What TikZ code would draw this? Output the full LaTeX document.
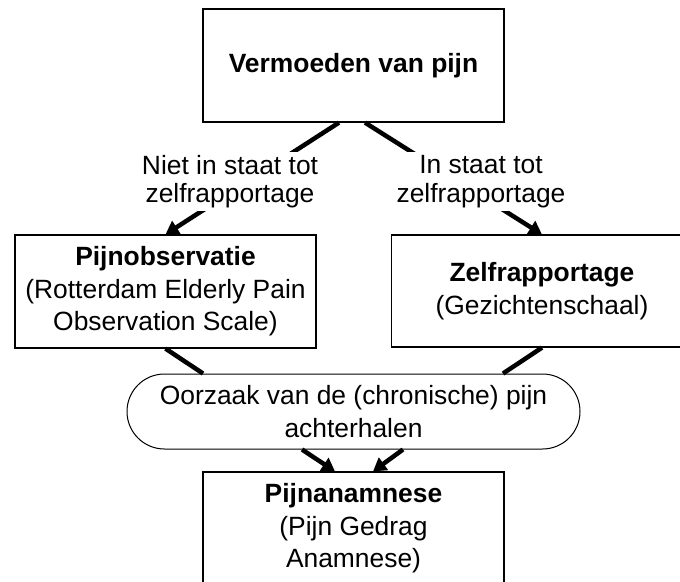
\documentclass[tikz,border=0pt]{standalone}
\usepackage{fontspec}
\setmainfont{Liberation Sans}
\usetikzlibrary{arrows.meta,calc}
\begin{document}
\begin{tikzpicture}[x=1pt,y=-1pt,
  box/.style={draw=black,line width=1.2pt,minimum width=301pt,minimum height=113pt,
    align=center,inner sep=6pt,font=\fontsize{26.4}{32.5}\selectfont},
  pill/.style={draw=black,line width=1pt,rounded corners=37.5pt,minimum width=453pt,
    minimum height=75pt,inner xsep=0pt,align=center,font=\fontsize{26.4}{32.5}\selectfont},
  lbl/.style={fill=white,inner sep=3pt,align=center,font=\fontsize{26.4}{28.5}\selectfont},
  conn/.style={line width=4.5pt},
  arr/.style={line width=4.5pt,-{Triangle[length=13pt,width=15pt]}}]
\useasboundingbox (0,0) rectangle (680,581);
\clip (0,0) rectangle (680,581);
\node[box] (top) at (353.5,65.5) {\bfseries Vermoeden van pijn};
\node[box] (left) at (165.5,291.5) {\bfseries Pijnobservatie\\(Rotterdam Elderly Pain\\Observation Scale)};
\node[box,minimum height=112pt] (right) at (542,291) {\bfseries Zelfrapportage\\(Gezichtenschaal)};
\node[pill] (cause) at (353.5,411.5) {Oorzaak van de (chronische) pijn\\achterhalen};
\node[box] (bottom) at (353.5,528.5) {\bfseries Pijnanamnese\\(Pijn Gedrag\\Anamnese)};
\draw[arr] ($(top.south)+(-14.5,0)$) -- (left.north);
\draw[arr] ($(top.south)+(11.5,0)$) -- (right.north);
\node[lbl] (lblL) at (230,181.5) {Niet in staat tot\\zelfrapportage};
\node[lbl] (lblR) at (481,181.5) {In staat tot\\zelfrapportage};
\draw[conn] (left.south) -- ($(cause.north)+(-150.5,0)$);
\draw[conn] (right.south) -- ($(cause.north)+(149.5,0)$);
\draw[arr] ($(cause.south)+(-51.5,0)$) -- ($(bottom.north)+(-18.5,0)$);
\draw[arr] ($(cause.south)+(49.5,0)$) -- ($(bottom.north)+(19.5,0)$);
\end{tikzpicture}
\end{document}
